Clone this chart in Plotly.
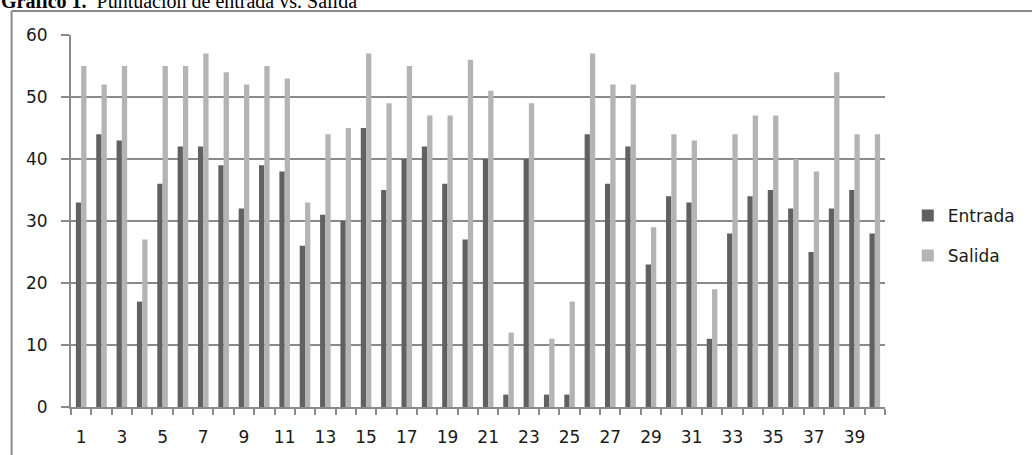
import plotly.graph_objects as go

categories = [1, 2, 3, 4, 5, 6, 7, 8, 9, 10, 11, 12, 13, 14, 15, 16, 17, 18, 19, 20,
              21, 22, 23, 24, 25, 26, 27, 28, 29, 30, 31, 32, 33, 34, 35, 36, 37, 38, 39, 40]
entrada = [33, 44, 43, 17, 36, 42, 42, 39, 32, 39, 38, 26, 31, 30, 45, 35, 40, 42, 36, 27,
           40, 2, 40, 2, 2, 44, 36, 42, 23, 34, 33, 11, 28, 34, 35, 32, 25, 32, 35, 28]
salida = [55, 52, 55, 27, 55, 55, 57, 54, 52, 55, 53, 33, 44, 45, 57, 49, 55, 47, 47, 56,
          51, 12, 49, 11, 17, 57, 52, 52, 29, 44, 43, 19, 44, 47, 47, 40, 38, 54, 44, 44]
x_tick_values = [1, 3, 5, 7, 9, 11, 13, 15, 17, 19, 21, 23, 25, 27, 29, 31, 33, 35, 37, 39]
x_tick_labels = ["1", "3", "5", "7", "9", "11", "13", "15", "17", "19",
                 "21", "23", "25", "27", "29", "31", "33", "35", "37", "39"]
y_tick_values = [0, 10, 20, 30, 40, 50, 60]

GRID = "#8a8a8a"
FONT = "DejaVu Sans"

fig = go.Figure()
fig.add_trace(go.Bar(x=categories, y=entrada, name="Entrada", marker_color="#616161",
                     marker_line_width=0, legendgroup="a"))
fig.add_trace(go.Bar(x=categories, y=salida, name="Salida", marker_color="#b4b4b4",
                     marker_line_width=0, legendgroup="b"))

fig.update_layout(
    width=1032, height=455,
    margin=dict(l=71, r=139, t=35, b=48),
    paper_bgcolor="white", plot_bgcolor="white",
    barmode="group", bargap=0.48, bargroupgap=0,
    font=dict(family=FONT, size=17, color="#1a1a1a"),
    legend=dict(x=1.028, xanchor="left", y=0.46, yanchor="middle",
                font=dict(family=FONT, size=17, color="#1a1a1a"),
                tracegroupgap=15, bgcolor="rgba(0,0,0,0)"),
    xaxis=dict(range=[0.5, 40.5], tickmode="array", tickvals=x_tick_values,
               ticktext=x_tick_labels, ticks="", showgrid=False, zeroline=False,
               showline=True, linecolor=GRID, linewidth=2, ticklabelstandoff=14,
               automargin=False,
               minor=dict(ticks="outside", tickmode="linear", tick0=0.5, dtick=1,
                          ticklen=6, tickwidth=2, tickcolor=GRID, showgrid=False)),
    yaxis=dict(range=[0, 60], tickmode="array", tickvals=y_tick_values,
               showgrid=True, gridcolor=GRID, gridwidth=2, zeroline=False,
               showline=True, linecolor=GRID, linewidth=2, automargin=False,
               ticks="outside", ticklen=8, tickwidth=2, tickcolor=GRID,
               ticklabelstandoff=10),
)

# outer chart border (top and left edges visible)
fig.add_shape(type="line", xref="paper", yref="paper", x0=-0.073, x1=1.2, y0=1.0645, y1=1.0645,
              line=dict(color=GRID, width=2))
fig.add_shape(type="line", xref="paper", yref="paper", x0=-0.073, x1=-0.073, y0=1.0645, y1=-0.2,
              line=dict(color=GRID, width=2))

# title, mostly cut off at the top of the picture
fig.add_annotation(xref="paper", yref="paper", x=-0.088, y=1.057, xanchor="left", yanchor="bottom",
                   text="<b>Gráfico 1.</b>  Puntuación de entrada vs. Salida", showarrow=False,
                   font=dict(family="Liberation Serif", size=20, color="black"))

fig.write_html("out.html", config={"displayModeBar": False},
               post_script="document.body.style.margin='0';")
